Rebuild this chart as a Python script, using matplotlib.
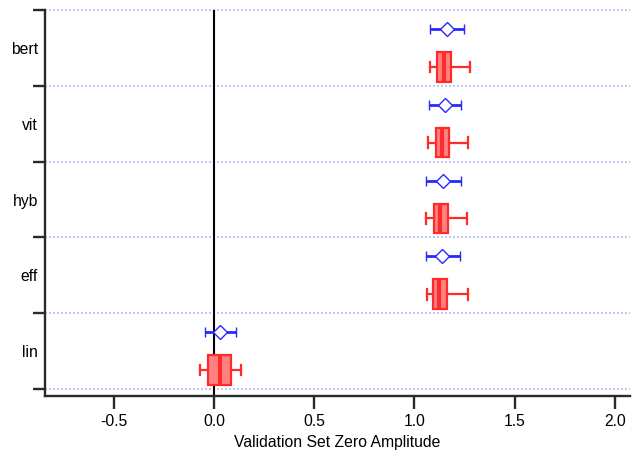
import matplotlib
matplotlib.use("Agg")
import matplotlib.pyplot as plt

plt.rcParams['font.family'] = ['Liberation Sans', 'DejaVu Sans']

models = ['bert', 'vit', 'hyb', 'eff', 'lin']

# mean estimate with interval (diamond + error bar)
est_center = [1.163, 1.152, 1.143, 1.140, 0.030]
est_low = [1.080, 1.072, 1.060, 1.057, -0.043]
est_high = [1.250, 1.235, 1.232, 1.227, 0.108]

# box summaries
box_q1 = [1.115, 1.107, 1.097, 1.093, -0.028]
box_med = [1.150, 1.137, 1.130, 1.123, 0.030]
box_q3 = [1.183, 1.173, 1.168, 1.162, 0.085]
box_lo = [1.080, 1.070, 1.060, 1.063, -0.070]
box_hi = [1.277, 1.268, 1.263, 1.268, 0.133]

xticks = [-0.5, 0.0, 0.5, 1.0, 1.5, 2.0]

fig = plt.figure(figsize=(6.38, 4.55), dpi=100)
ax = fig.add_axes([0.0705, 0.1297, 0.917, 0.8483])

n = len(models)
est_y = [i + 0.25 for i in range(n)]
box_y = [i + 0.75 for i in range(n)]

blue = '#2828ff'
red = '#ff2a2a'
axis_col = '#2a2a2a'
fs = 11.3

for y in range(n + 1):
    ax.axhline(y, color='#b8b8fa', lw=1.2, ls=(0, (1.2, 1.2)), zorder=1, clip_on=False)

ax.axvline(0, color='black', lw=1.5, zorder=2)

xerr = [[c - l for c, l in zip(est_center, est_low)],
        [h - c for c, h in zip(est_center, est_high)]]
ax.errorbar(est_center, est_y, xerr=xerr, fmt='D', color=blue, ecolor=blue,
            elinewidth=2.0, capsize=3.8, capthick=2.0, markersize=7.2,
            markerfacecolor='white', markeredgecolor=blue, markeredgewidth=1.0,
            zorder=4)

stats = []
for i in range(n):
    stats.append(dict(med=box_med[i], q1=box_q1[i], q3=box_q3[i],
                      whislo=box_lo[i], whishi=box_hi[i], fliers=[]))
ax.bxp(stats, positions=box_y, widths=0.39, orientation='horizontal',
       patch_artist=True, manage_ticks=False, showfliers=False,
       boxprops=dict(facecolor='#ff8282', edgecolor=red, linewidth=1.6),
       medianprops=dict(color=red, linewidth=3.0),
       whiskerprops=dict(color=red, linewidth=1.6),
       capprops=dict(color=red, linewidth=1.6),
       capwidths=0.14, zorder=3)

ax.set_xlim(-0.843, 2.076)
ax.set_ylim(5.092, 0)

ax.set_xticks(xticks)
ax.set_xticklabels([f'{t:.1f}' for t in xticks])
ax.set_yticks(range(n + 1))
ax.set_yticklabels([])
ax.set_yticks([i + 0.5 for i in range(n)], minor=True)
ax.set_yticklabels(models, minor=True)
ax.tick_params(axis='y', which='minor', length=0, pad=5, labelsize=fs)
ax.tick_params(axis='y', which='major', length=9, width=1.7, direction='out',
               color=axis_col)
ax.tick_params(axis='x', length=9, width=1.7, direction='out', labelsize=fs,
               pad=4, color=axis_col)

for side in ['top', 'right']:
    ax.spines[side].set_visible(False)
for side in ['left', 'bottom']:
    ax.spines[side].set_linewidth(1.7)
    ax.spines[side].set_color(axis_col)

ax.set_xlabel('Validation Set Zero Amplitude', fontsize=fs, labelpad=4)

fig.savefig('out.png', dpi=100)
